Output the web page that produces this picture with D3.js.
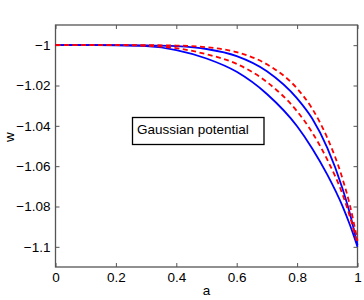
<!DOCTYPE html>
<html>
<head>
<meta charset="utf-8">
<script src="https://cdn.jsdelivr.net/npm/d3@7"></script>
<style>
  body { margin: 0; background: #fff; }
  text { font-family: "Liberation Sans", Arial, Helvetica, sans-serif; }
</style>
</head>
<body>
<svg id="chart" width="364" height="300"></svg>
<script>
let aVals = [0, 0.1, 0.2, 0.3, 0.4, 0.5, 0.6, 0.7, 0.8, 0.85, 0.9, 0.95, 0.975, 1];
let blueLow = [-1, -1, -1.0001, -1.0005, -1.0024, -1.0066, -1.0132, -1.0242, -1.0402, -1.0512, -1.0642, -1.0797, -1.0892, -1.1];
let blueUpper = [-1, -1, -1, -1.0001, -1.0005, -1.0019, -1.0054, -1.0129, -1.0264, -1.0364, -1.0509, -1.0709, -1.0836, -1.0991];
let redInner = [-1, -1, -1, -1.0003, -1.0015, -1.0045, -1.0093, -1.0183, -1.0328, -1.0433, -1.0568, -1.0738, -1.0851, -1.0984];
let redOuter = [-1, -1, -1, -1, -1.0002, -1.001, -1.0035, -1.0095, -1.0215, -1.0315, -1.046, -1.066, -1.0795, -1.097];

let xTicks = [0, 0.2, 0.4, 0.6, 0.8, 1];
let xTickLabels = ["0", "0.2", "0.4", "0.6", "0.8", "1"];
let yTicks = [-1.1, -1.08, -1.06, -1.04, -1.02, -1];
let yTickLabels = ["\u22121.1", "\u22121.08", "\u22121.06", "\u22121.04", "\u22121.02", "\u22121"];

let boxText = "Gaussian potential";

let plotLeft = 55.5, plotRight = 357.5, plotTop = 25, plotBottom = 267;

let svg = d3.select("#chart");

let x = d3.scaleLinear().domain([0, 1]).range([plotLeft, plotRight]);
let y = d3.scaleLinear().domain([-1.11, -0.99]).range([plotBottom, plotTop]);

let axisColor = "#555";

function styleAxis(g, showLabels) {
    g.select(".domain").remove();
    g.selectAll(".tick line").attr("stroke", axisColor).attr("stroke-width", 1);
    g.selectAll(".tick text")
        .attr("fill", "#000")
        .style("font-size", "13.5px")
        .style("display", showLabels ? null : "none");
}

// bottom & left with labels, top & right ticks only (ticks point inward)
svg.append("g")
    .attr("transform", "translate(0," + plotBottom + ")")
    .call(d3.axisBottom(x).tickValues(xTicks)
        .tickFormat((d, i) => xTickLabels[i])
        .tickSizeInner(-4).tickSizeOuter(0).tickPadding(5))
    .call(g => styleAxis(g, true));

svg.append("g")
    .attr("transform", "translate(0," + plotTop + ")")
    .call(d3.axisTop(x).tickValues(xTicks).tickSizeInner(-4).tickSizeOuter(0))
    .call(g => styleAxis(g, false));

svg.append("g")
    .attr("transform", "translate(" + plotLeft + ",0)")
    .call(d3.axisLeft(y).tickValues(yTicks)
        .tickFormat((d, i) => yTickLabels[i])
        .tickSizeInner(-4).tickSizeOuter(0).tickPadding(5))
    .call(g => styleAxis(g, true));

svg.append("g")
    .attr("transform", "translate(" + plotRight + ",0)")
    .call(d3.axisRight(y).tickValues(yTicks).tickSizeInner(-4).tickSizeOuter(0))
    .call(g => styleAxis(g, false));

// axes box
svg.append("rect")
    .attr("x", plotLeft).attr("y", plotTop)
    .attr("width", plotRight - plotLeft).attr("height", plotBottom - plotTop)
    .attr("fill", "none")
    .attr("stroke", axisColor)
    .attr("stroke-width", 1.3);

// curves
let line = d3.line()
    .x(d => x(d[0]))
    .y(d => y(d[1]))
    .curve(d3.curveMonotoneX);

let series = [
    { vals: blueLow, color: "#0000ff", dash: null },
    { vals: blueUpper, color: "#0000ff", dash: null },
    { vals: redInner, color: "#ff0000", dash: "5,3.5" },
    { vals: redOuter, color: "#ff0000", dash: "5,3.5" }
];

series.forEach(s => {
    svg.append("path")
        .datum(aVals.map((a, i) => [a, s.vals[i]]))
        .attr("d", line)
        .attr("fill", "none")
        .attr("stroke", s.color)
        .attr("stroke-width", 1.8)
        .attr("stroke-dasharray", s.dash);
});

// annotation box
svg.append("rect")
    .attr("x", 132.5).attr("y", 117.5)
    .attr("width", 131.5).attr("height", 27)
    .attr("fill", "#fff")
    .attr("stroke", "#000")
    .attr("stroke-width", 1.3);

svg.append("text")
    .attr("x", 137).attr("y", 133.5)
    .style("font-size", "13.5px")
    .text(boxText);

// axis labels
svg.append("text")
    .attr("x", (plotLeft + plotRight) / 2).attr("y", 295)
    .attr("text-anchor", "middle")
    .style("font-size", "13.5px")
    .text("a");

svg.append("text")
    .attr("transform", "translate(14,137) rotate(-90)")
    .attr("text-anchor", "middle")
    .style("font-size", "13.5px")
    .text("w");
</script>
</body>
</html>
